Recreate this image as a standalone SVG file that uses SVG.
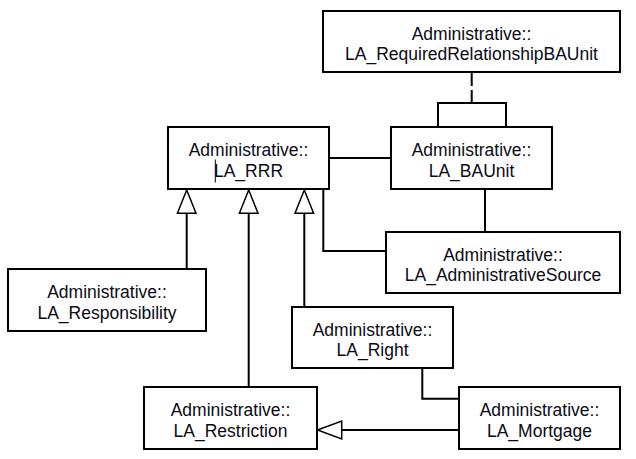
<svg xmlns="http://www.w3.org/2000/svg" width="636" height="459" viewBox="0 0 636 459">
<defs>
<style>
.box{fill:#fff;stroke:#000;stroke-width:2}
.lbl{font-family:"Liberation Sans",Arial,sans-serif;font-size:17.5px;fill:#0a0a14;text-anchor:middle}
.con{fill:none;stroke:#000;stroke-width:2}
.gen{fill:#fff;stroke:#000;stroke-width:1.5}
</style>
</defs>
<rect width="636" height="459" fill="#fff"/>
<g id="connectors">
<path class="con" d="M471.7 72V102.7" stroke-dasharray="14 4"/>
<path class="con" d="M438 127V103H506V127"/>
<path class="con" d="M329 158H391"/>
<path class="con" d="M485 189V232"/>
<path class="con" d="M323.3 189V251H386"/>
<path class="con" d="M186.7 269V213.3"/>
<path class="con" d="M248.7 387V213.3"/>
<path class="con" d="M304.3 307V213.3"/>
<path class="con" d="M422.3 368V398.7H459"/>
<path class="con" d="M459 430H341.7"/>
<polygon class="gen" points="186.7,190 177.4,213.3 196,213.3"/>
<polygon class="gen" points="248.7,190 239.4,213.3 258,213.3"/>
<polygon class="gen" points="304.3,190 295,213.3 313.6,213.3"/>
<polygon class="gen" points="317.5,430 341.7,421 341.7,439"/>
</g>
<g id="LA_RequiredRelationshipBAUnit">
<rect class="box" x="323" y="11" width="297" height="61"/>
<text class="lbl" x="471.5" y="39.5">Administrative::</text>
<text class="lbl" x="471.5" y="60">LA_RequiredRelationshipBAUnit</text>
</g>
<g id="LA_BAUnit">
<rect class="box" x="391" y="127" width="161" height="62"/>
<text class="lbl" x="471.5" y="156">Administrative::</text>
<text class="lbl" x="471.5" y="176.5">LA_BAUnit</text>
</g>
<g id="LA_RRR">
<rect class="box" x="168" y="127" width="161" height="62"/>
<text class="lbl" x="248.5" y="156">Administrative::</text>
<text class="lbl" x="248.5" y="176.5">LA_RRR</text>
<line x1="215.3" y1="159.5" x2="215.3" y2="182.5" stroke="#000" stroke-width="1"/>
</g>
<g id="LA_AdministrativeSource">
<rect class="box" x="386" y="232" width="234" height="61"/>
<text class="lbl" x="503" y="260.5">Administrative::</text>
<text class="lbl" x="503" y="281">LA_AdministrativeSource</text>
</g>
<g id="LA_Responsibility">
<rect class="box" x="8" y="269" width="198" height="62"/>
<text class="lbl" x="107" y="298">Administrative::</text>
<text class="lbl" x="107" y="318.5">LA_Responsibility</text>
</g>
<g id="LA_Right">
<rect class="box" x="292" y="307" width="161" height="61"/>
<text class="lbl" x="372.5" y="335.5">Administrative::</text>
<text class="lbl" x="372.5" y="356">LA_Right</text>
</g>
<g id="LA_Restriction">
<rect class="box" x="144" y="387" width="173" height="62"/>
<text class="lbl" x="230.5" y="416">Administrative::</text>
<text class="lbl" x="230.5" y="436.5">LA_Restriction</text>
</g>
<g id="LA_Mortgage">
<rect class="box" x="459" y="387" width="161" height="62"/>
<text class="lbl" x="539.5" y="416">Administrative::</text>
<text class="lbl" x="539.5" y="436.5">LA_Mortgage</text>
</g>
</svg>
